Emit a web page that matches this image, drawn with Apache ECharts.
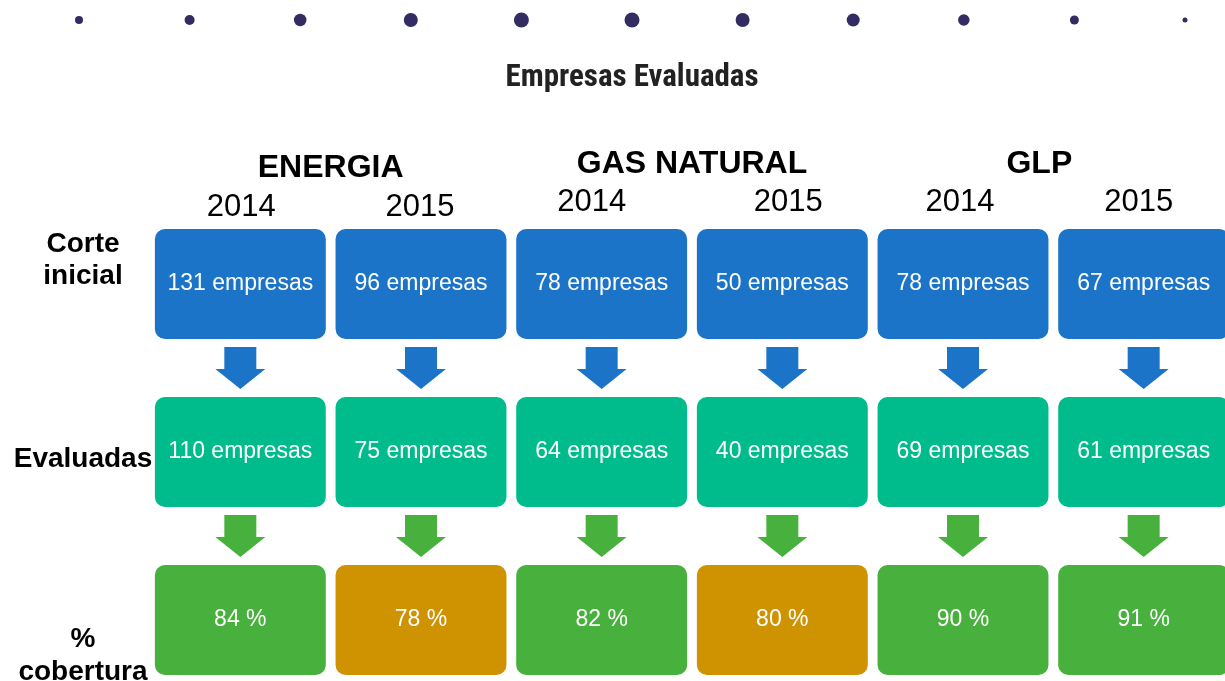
<!DOCTYPE html>
<html>
<head>
<meta charset="utf-8">
<script src="https://cdn.jsdelivr.net/npm/echarts@6/dist/echarts.min.js"></script>
<style>
  html, body { margin: 0; padding: 0; background: #ffffff; }
  #chart { width: 1225px; height: 681px; }
</style>
</head>
<body>
<div id="chart"></div>
<script>
// ---- data ----
const titleText = 'Empresas Evaluadas';
const sectors = ['ENERGIA', 'GAS NATURAL', 'GLP'];
const years = ['2014', '2015'];
const rowLabels = ['Corte\ninicial', 'Evaluadas', '%\ncobertura'];
const corteInicial = [131, 96, 78, 50, 78, 67];
const evaluadas = [110, 75, 64, 40, 69, 61];
const cobertura = [84, 78, 82, 80, 90, 91];
const dotIndex = [0, 1, 2, 3, 4, 5, 6, 7, 8, 9, 10];

// ---- styles ----
const FONT = "'Liberation Sans', Arial, sans-serif";
const rowColors = ['#1B74C8', '#00BC8C', '#48B03C'];
const lowColor = '#CF9200';
const arrowColors = ['#1B74C8', '#48B03C'];
const dotSizes = [8, 10, 12.5, 14, 15, 15, 14, 13, 11.5, 9, 5];
const yearShift = [1, -1, -10, 6, -3, -5];
const BOX_W = 0.946, BOX_H = 0.655;

const cells = [];
sectors.forEach(s => years.forEach(y => cells.push(s + ' ' + y)));

const boxData = [];
cells.forEach((c, i) => {
  boxData.push({ value: [i, 0], label: corteInicial[i] + ' empresas', color: rowColors[0] });
  boxData.push({ value: [i, 1], label: evaluadas[i] + ' empresas', color: rowColors[1] });
  boxData.push({ value: [i, 2], label: cobertura[i] + ' %', color: cobertura[i] < 81 ? lowColor : rowColors[2] });
});
const arrowData = [];
cells.forEach((c, i) => {
  arrowData.push({ value: [i, 0.5], color: arrowColors[0] });
  arrowData.push({ value: [i, 1.5], color: arrowColors[1] });
});

function shiftPad(dx) {
  return [0, dx < 0 ? -2 * dx : 0, 0, dx > 0 ? 2 * dx : 0];
}

const yearRich = { s: { lineHeight: 10, fontSize: 1 } };
yearShift.forEach((dx, i) => {
  yearRich['y' + i] = { fontFamily: FONT, fontSize: 31, color: '#000', lineHeight: 36, padding: shiftPad(dx) };
});

const chart = echarts.init(document.getElementById('chart'), null, { renderer: 'canvas' });
chart.setOption({
  animation: false,
  backgroundColor: '#ffffff',
  title: {
    text: titleText,
    left: 627,
    top: 58,
    textAlign: 'center',
    textStyle: {
      fontFamily: "'Liberation Sans Narrow', 'Roboto Condensed', Roboto, sans-serif",
      fontWeight: 'bold',
      fontSize: 31,
      color: '#222222'
    }
  },
  grid: [
    { left: 150, top: 200, width: 1084, height: 504, outerBoundsMode: 'none', containLabel: false },
    { left: 79, top: 10, width: 1106, height: 20, outerBoundsMode: 'none', containLabel: false }
  ],
  xAxis: [
    {
      type: 'category', gridIndex: 0, data: cells, position: 'top',
      axisLine: { show: false, onZero: false }, axisTick: { show: false }, splitLine: { show: false },
      axisLabel: {
        interval: 0, margin: -2, verticalAlign: 'middle',
        formatter: function (v, idx) {
          const yr = v.split(' ').pop();
          return idx < 2 ? '{s| }\n{y' + idx + '|' + yr + '}' : '{y' + idx + '|' + yr + '}';
        },
        rich: yearRich
      }
    },
    {
      type: 'category', gridIndex: 0, data: sectors, position: 'top',
      axisLine: { show: false, onZero: false }, axisTick: { show: false }, splitLine: { show: false },
      axisLabel: {
        interval: 0, margin: 36, verticalAlign: 'middle',
        formatter: function (v, idx) {
          if (idx === 0) return '{s| }\n{h|' + v + '}';
          if (idx === 2) return '{g|' + v + '}';
          return '{h|' + v + '}';
        },
        rich: {
          s: { lineHeight: 8, fontSize: 1 },
          h: { fontFamily: FONT, fontSize: 32, fontWeight: 'bold', color: '#000', lineHeight: 36 },
          g: { fontFamily: FONT, fontSize: 32, fontWeight: 'bold', color: '#000', lineHeight: 36, padding: [0, 28, 0, 0] }
        }
      }
    },
    { type: 'value', gridIndex: 1, min: 0, max: 10, show: false }
  ],
  yAxis: [
    {
      type: 'value', gridIndex: 0, inverse: true, min: -0.5, max: 2.5, interval: 0.5,
      axisLine: { show: false, onZero: false }, axisTick: { show: false }, splitLine: { show: false },
      axisLabel: {
        margin: 67, align: 'center', verticalAlign: 'middle',
        showMinLabel: true, showMaxLabel: true,
        formatter: function (v) {
          if (Math.abs(v - Math.round(v)) > 1e-6 || v < 0 || v > 2) return '';
          const lines = rowLabels[Math.round(v)].split('\n');
          if (v === 0) return lines.map(l => '{a|' + l + '}').join('\n') + '\n{s0| }';
          if (v === 1) return '{s1| }\n' + lines.map(l => '{a|' + l + '}').join('\n');
          return '{s2| }\n' + lines.map(l => '{c|' + l + '}').join('\n');
        },
        rich: {
          a: { fontFamily: FONT, fontSize: 28, fontWeight: 'bold', color: '#000', lineHeight: 32 },
          c: { fontFamily: FONT, fontSize: 28, fontWeight: 'bold', color: '#000', lineHeight: 33 },
          s0: { lineHeight: 48, fontSize: 1 },
          s1: { lineHeight: 14, fontSize: 1 },
          s2: { lineHeight: 71, fontSize: 1 }
        }
      }
    },
    { type: 'value', gridIndex: 1, min: -1, max: 1, show: false }
  ],
  series: [
    {
      type: 'scatter', xAxisIndex: 2, yAxisIndex: 1, clip: false,
      data: dotIndex.map(i => [i, 0]),
      symbol: 'circle',
      symbolSize: function (val, p) { return dotSizes[p.dataIndex]; },
      itemStyle: { color: '#332C62', opacity: 1 },
      silent: true
    },
    {
      type: 'custom', xAxisIndex: 0, yAxisIndex: 0, clip: false,
      data: boxData,
      renderItem: function (params, api) {
        const item = boxData[params.dataIndex];
        const c = api.coord([api.value(0), api.value(1)]);
        const unit = api.size([1, 1]);
        const w = unit[0] * BOX_W, h = unit[1] * BOX_H;
        return {
          type: 'group',
          children: [
            { type: 'rect', shape: { x: c[0] - w / 2, y: c[1] - h / 2, width: w, height: h, r: 10 }, style: { fill: item.color } },
            { type: 'text', style: { text: item.label, x: c[0], y: c[1], align: 'center', verticalAlign: 'middle', fill: '#ffffff', font: '23px ' + FONT } }
          ]
        };
      }
    },
    {
      type: 'custom', xAxisIndex: 0, yAxisIndex: 0, clip: false,
      data: arrowData,
      renderItem: function (params, api) {
        const item = arrowData[params.dataIndex];
        const c = api.coord([api.value(0), api.value(1)]);
        const x = c[0], y = c[1];
        const sw = 16, hw = 25, top = y - 21, neck = y + 1, tip = y + 21;
        return {
          type: 'polygon',
          shape: { points: [[x - sw, top], [x + sw, top], [x + sw, neck], [x + hw, neck], [x, tip], [x - hw, neck], [x - sw, neck]] },
          style: { fill: item.color }
        };
      }
    }
  ]
});
</script>
</body>
</html>
